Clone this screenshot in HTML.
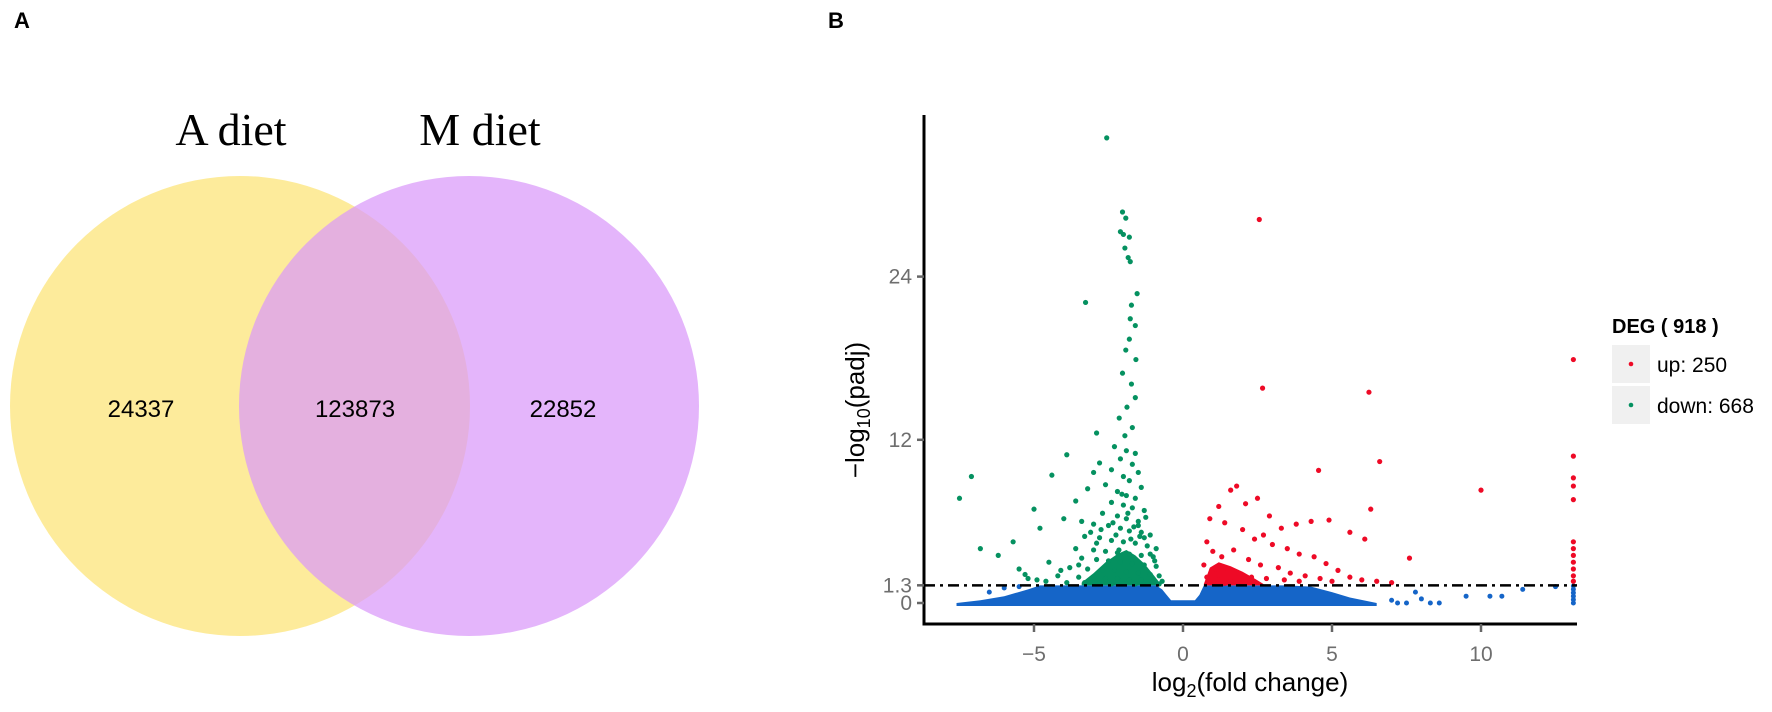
<!DOCTYPE html>
<html><head><meta charset="utf-8"><style>
body{margin:0;background:#fff;width:1772px;height:712px;overflow:hidden}
svg{display:block}
text{font-family:"Liberation Sans",Arial,sans-serif}
</style></head><body>
<svg id="fig" width="1772" height="712" xmlns="http://www.w3.org/2000/svg">
  <g>
    <text x="14" y="28" font-size="22" font-weight="bold">A</text>
    <circle cx="240" cy="406" r="230" fill="#fde990" fill-opacity="0.9"/>
    <circle cx="469" cy="406" r="230" fill="#d999fa" fill-opacity="0.72"/>
    <text x="231" y="145" font-size="46" text-anchor="middle" style="font-family:'Liberation Serif',serif">A diet</text>
    <text x="480" y="145" font-size="46" text-anchor="middle" style="font-family:'Liberation Serif',serif">M diet</text>
    <text x="141" y="417" font-size="24" text-anchor="middle">24337</text>
    <text x="355" y="417" font-size="24" text-anchor="middle">123873</text>
    <text x="563" y="417" font-size="24" text-anchor="middle">22852</text>
  </g>
  <g id="volcano">
    <text x="828" y="28" font-size="22" font-weight="bold">B</text>
  </g>
</svg>
<script>
// ---- data ----
const xTicks = [-5, 0, 5, 10];
const yTicks = [0, 1.3, 12, 24];
const yTickLabels = ["0", "1.3", "12", "24"];
const threshold = 1.3;
const downX = [-2.56,-2.03,-1.92,-2.1,-2.0,-1.8,-1.95,-1.84,-1.77,-3.27,-1.54,-1.73,-1.77,-1.6,-1.8,-1.92,-1.58,-2.03,-1.73,-1.6,-1.88,-2.14,-1.7,-1.95,
 -2.3,-1.9,-1.6,-2.1,-1.7,-2.4,-1.5,-2.0,-1.8,-2.6,-1.4,-2.2,-1.9,-1.6,-2.4,-2.0,-1.7,-1.3,-2.7,-2.2,-1.9,-1.5,-3.0,-2.5,-2.1,-1.8,-1.4,-1.1,-3.3,-2.8,-2.4,-2.0,-1.6,-1.2,-0.9,-3.6,-3.0,-2.6,-2.2,-1.8,-1.4,-1.0,-3.4,-2.9,-2.5,-2.1,-1.7,-1.3,-0.9,-3.8,-3.2,-2.7,-2.3,-1.9,-1.5,-1.1,-0.8,-4.2,-3.5,-3.0,-2.6,-2.2,-1.8,-1.4,-1.0,-0.7,-4.6,-3.9,-3.3,-2.8,-2.4,-2.0,-1.6,-1.2,-0.8,
 -7.5,-7.1,-6.8,-6.2,-5.7,-5.0,-4.8,-4.4,-3.9,-4.5,-5.5,-5.2,-4.0,-3.6,-3.2,-3.0,-2.8,-3.4,-2.9,-5.3,-4.9,-2.05,-1.85,-1.65,-2.25,-1.75,-2.15,
 -1.3,-1.1,-2.9,-3.1,-1.5,-2.35,-1.45,-1.25,-2.75,-3.5,-4.1,-0.95];
const downY = [34.2,28.75,28.3,27.3,27.1,26.9,26.1,25.4,25.1,22.1,22.75,21.9,20.9,20.4,19.4,18.6,17.9,16.9,16.1,15.1,14.4,13.6,12.9,12.3,
 11.5,11.2,11.0,10.6,10.2,9.8,9.6,9.3,9.0,8.7,8.5,8.2,7.9,7.7,7.4,7.2,7.0,6.8,6.6,6.4,6.2,6.0,5.8,5.7,5.5,5.3,5.2,5.0,4.9,4.8,4.6,4.5,4.4,4.2,4.0,4.0,3.9,3.8,3.7,3.6,3.5,3.4,3.3,3.2,3.1,3.0,2.9,2.8,2.7,2.6,2.5,2.4,2.4,2.3,2.2,2.1,2.0,2.0,1.9,1.9,1.8,1.8,1.7,1.7,1.6,1.6,1.6,1.5,1.5,1.5,1.4,1.4,1.4,1.4,1.4,
 7.7,9.3,4.0,3.5,4.5,6.9,5.5,9.4,10.9,3.0,2.5,1.8,6.2,7.5,8.4,9.6,10.3,6.0,12.5,2.1,1.7,8.0,6.6,5.6,5.0,4.7,3.9,
 4.8,3.6,4.4,5.2,5.7,5.9,4.9,6.3,5.4,2.8,2.4,3.1];
const downDenseX = [-3.4,-3.0,-2.6,-2.2,-1.9,-1.6,-1.3,-1.0,-0.75];
const downDenseTop = [1.5,2.2,3.0,3.6,3.9,3.5,2.9,2.1,1.4];
const upX = [2.56,13.1,2.67,6.24,4.55,6.6,10,13.1,13.1,13.1,13.1,6.3,6.1,7.6,5.6,4.9,4.3,3.8,3.3,2.9,2.5,2.1,1.8,1.6,1.2,0.9,1.4,2.0,2.4,2.7,3.0,3.5,3.9,4.4,4.8,5.2,5.6,6.0,6.5,7.0,0.8,1.0,1.3,1.7,2.2,2.6,3.2,3.6,4.1,4.6,5.0,0.7,1.1,1.5,1.9,2.3,2.8,3.4,3.9,0.8,1.2,1.6,2.0,2.4,0.9,1.4,13.1,13.1,13.1,13.1,13.1,13.1,13.1];
const upY = [28.2,17.9,15.8,15.5,9.75,10.4,8.3,10.8,9.2,8.6,7.6,6.9,4.7,3.3,5.2,6.1,6.0,5.8,5.5,6.4,7.7,7.3,8.6,8.3,7.1,6.2,5.9,5.4,4.7,5.0,4.3,4.0,3.6,3.4,2.9,2.4,1.9,1.7,1.6,1.5,4.5,3.8,3.4,3.9,3.2,2.8,2.6,2.2,2.0,1.8,1.6,2.8,2.5,2.3,2.1,1.9,1.8,1.7,1.6,1.9,1.7,1.6,1.5,1.5,1.5,1.45,4.5,4.0,3.5,3.0,2.5,2.0,1.6];
const upDenseX = [0.7,0.9,1.2,1.6,2.0,2.4,2.7];
const upDenseTop = [1.4,2.6,3.0,2.7,2.3,1.8,1.4];
const nsX = [-7.6,-6.8,-6.0,-5.2,-4.8,-3.0,-0.9,-0.7,-0.55,-0.4,0.4,0.55,0.7,3.5,4.3,5.0,5.6,6.5];
const nsTop = [0,0.2,0.5,1.0,1.3,1.3,1.3,1.0,0.6,0.2,0.2,0.6,1.3,1.3,1.2,0.8,0.4,0];
const nsPtX = [7.2,7.5,8.0,8.3,8.6,9.5,10.3,10.7,11.4,12.5,7.8,7.0,-6.5,-6.0,-5.5,13.1,13.1,13.1,13.1,13.1,13.1];
const nsPtY = [0,0,0.3,0,0,0.5,0.5,0.5,1.0,1.2,0.8,0.2,0.8,1.1,1.2,0,0.25,0.5,0.75,1.0,1.25];
const legendLabels = ["up: 250", "down: 668"];

// ---- scales ----
const X0 = 924, X1 = 1577, Y0 = 115, YA = 624;
const xs = v => 1183 + v * 29.8;
const ys = v => 603 - v * 13.6;
const NS = "http://www.w3.org/2000/svg";
const g = document.getElementById('volcano');
function mk(tag, attrs, parent) {
  const e = document.createElementNS(NS, tag);
  for (const k in attrs) e.setAttribute(k, attrs[k]);
  (parent || g).appendChild(e);
  return e;
}
let pts = nsX.map((x, i) => xs(x) + ',' + ys(nsTop[i]));
pts.push(xs(nsX[nsX.length - 1]) + ',' + (ys(0) + 3));
pts.push(xs(nsX[0]) + ',' + (ys(0) + 3));
const nsPoly = mk('polygon', {points: pts.join(' '), fill: '#1565c8'});


nsPtX.forEach((x, i) => {
  const c = mk('circle', {cx: xs(x), cy: ys(nsPtY[i]), r: 2.5, fill: '#1565c8'});
  
  
});
function dense(xa, ta, col, name) {
  let p = xa.map((x, i) => xs(x) + ',' + ys(ta[i]));
  p.push(xs(xa[xa.length - 1]) + ',' + ys(threshold));
  p.push(xs(xa[0]) + ',' + ys(threshold));
  const e = mk('polygon', {points: p.join(' '), fill: col});
  
  
}
dense(downDenseX, downDenseTop, '#059160', 'down-dense-cluster');
dense(upDenseX, upDenseTop, '#ee0a26', 'up-dense-cluster');
downX.forEach((x, i) => {
  const c = mk('circle', {cx: xs(x), cy: ys(downY[i]), r: 2.6, fill: '#059160'});
  
  
});
upX.forEach((x, i) => {
  const c = mk('circle', {cx: xs(x), cy: ys(upY[i]), r: 2.6, fill: '#ee0a26'});
  
  
});
const th = mk('line', {x1: X0, x2: X1, y1: ys(threshold), y2: ys(threshold), stroke: '#000', 'stroke-width': 2.5, 'stroke-dasharray': '11 5 3 5'});


const ya = mk('line', {x1: X0, x2: X0, y1: Y0, y2: YA + 1.5, stroke: '#000', 'stroke-width': 3});


const xa = mk('line', {x1: X0 - 1.5, x2: X1, y1: YA, y2: YA, stroke: '#000', 'stroke-width': 3});


yTicks.forEach((v, i) => {
  const t = mk('line', {x1: X0 - 7, x2: X0, y1: ys(v), y2: ys(v), stroke: '#666', 'stroke-width': 2.5});
  
  
  const l = mk('text', {x: X0 - 12, y: ys(v) + 7, 'font-size': 21, fill: '#6e6e6e', 'text-anchor': 'end'});
  l.textContent = yTickLabels[i];
  
  
});
xTicks.forEach(v => {
  const t = mk('line', {x1: xs(v), x2: xs(v), y1: YA, y2: YA + 8, stroke: '#666', 'stroke-width': 2.5});
  
  
  const l = mk('text', {x: xs(v), y: 661, 'font-size': 21, fill: '#6e6e6e', 'text-anchor': 'middle'});
  l.textContent = v < 0 ? '\u2212' + Math.abs(v) : String(v);
  
  
});
const xt = mk('text', {x: 1250, y: 691, 'font-size': 26, 'text-anchor': 'middle'});
xt.innerHTML = 'log<tspan font-size="18" dy="6">2</tspan><tspan dy="-6">(fold change)</tspan>';


const yt = mk('text', {x: 0, y: 0, 'font-size': 26, 'text-anchor': 'middle', transform: 'translate(864,410) rotate(-90)'});
yt.innerHTML = '\u2212log<tspan font-size="18" dy="6">10</tspan><tspan dy="-6">(padj)</tspan>';


const lg = mk('g', {});


const lt = mk('text', {x: 1612, y: 333, 'font-size': 20, 'font-weight': 'bold'}, lg);
lt.textContent = 'DEG ( 918 )';


const legCols = ['#ee0a26', '#059160'];
legendLabels.forEach((s, i) => {
  const y = 345 + i * 41;
  const b = mk('rect', {x: 1612, y: y, width: 38, height: 38, fill: '#f0f0f0'}, lg);
  
  
  const d = mk('circle', {cx: 1631, cy: y + 19, r: 2.3, fill: legCols[i]}, lg);
  
  
  const t = mk('text', {x: 1657, y: y + 27, 'font-size': 21}, lg);
  t.textContent = s;
  
  
});
</script>
</body></html>
